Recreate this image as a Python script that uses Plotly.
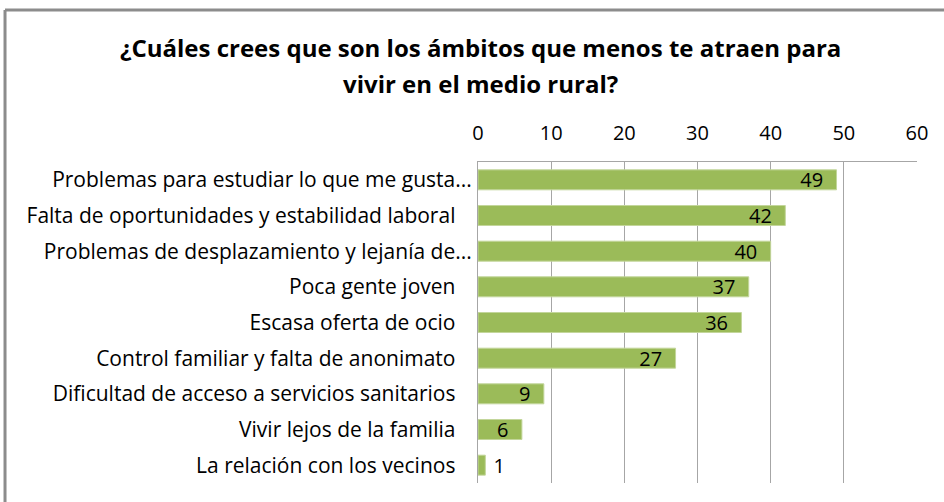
import plotly.graph_objects as go

# Categories (top to bottom) and counts
categorias = [
    "Problemas para estudiar lo que me gusta...",
    "Falta de oportunidades y estabilidad laboral",
    "Problemas de desplazamiento y lejanía de...",
    "Poca gente joven",
    "Escasa oferta de ocio",
    "Control familiar y falta de anonimato",
    "Dificultad de acceso a servicios sanitarios",
    "Vivir lejos de la familia",
    "La relación con los vecinos",
]
valores = [49, 42, 40, 37, 36, 27, 9, 6, 1]
ticks_x = [0, 10, 20, 30, 40, 50, 60]

titulo_1 = "¿Cuáles crees que son los ámbitos que menos te atraen para"
titulo_2 = "vivir en el medio rural?"

FONT = "Open Sans"
GRIS = "#A6A6A6"
VERDE = "#9BBB59"

# Excel pads the labels that are not cut with "..." a bit further from the axis
pad = "\u00a0" * 3
etiquetas = [c if c.endswith("...") else c + pad for c in categorias]

fig = go.Figure(go.Bar(
    x=valores,
    y=etiquetas,
    orientation="h",
    marker=dict(color=VERDE, line=dict(color="#C3D69B", width=1)),
    text=valores,
    texttemplate="\u00a0%{x}\u00a0\u00a0",
    textposition="auto",
    insidetextanchor="end",
    insidetextfont=dict(color="black", size=20, family=FONT),
    outsidetextfont=dict(color="black", size=20, family=FONT),
    constraintext="none",
    cliponaxis=False,
))

fig.update_layout(
    width=944, height=502,
    margin=dict(l=478, r=27, t=162, b=19),
    paper_bgcolor="white", plot_bgcolor="white",
    font=dict(family=FONT, size=18, color="black"),
    showlegend=False,
    bargap=0.44,
    xaxis=dict(
        side="top", range=[0, 60], tickvals=ticks_x,
        showgrid=True, gridcolor=GRIS, gridwidth=1,
        showline=True, linecolor=GRIS, linewidth=1, mirror=False,
        ticks="", ticklabelstandoff=13, zeroline=False,
        tickfont=dict(size=20),
    ),
    yaxis=dict(
        autorange="reversed",
        showline=True, linecolor=GRIS, linewidth=1,
        ticks="", ticklabelstandoff=1,
        tickfont=dict(size=21),
    ),
    annotations=[
        dict(text="<b>" + titulo_1 + "</b>", xref="paper", yref="paper",
             x=0.0046, y=1.358, xanchor="center", yanchor="middle",
             showarrow=False, font=dict(size=24)),
        dict(text="<b>" + titulo_2 + "</b>", xref="paper", yref="paper",
             x=0.0046, y=1.246, xanchor="center", yanchor="middle",
             showarrow=False, font=dict(size=24)),
    ],
    shapes=[
        dict(type="line", xref="paper", yref="paper",
             x0=-1.0774, x1=1.1, y0=1.4735, y1=1.4735,
             line=dict(color="#8C8C8C", width=3)),
        dict(type="line", xref="paper", yref="paper",
             x0=-1.0774, x1=-1.0774, y0=1.4735, y1=-0.2,
             line=dict(color="#8C8C8C", width=3)),
    ],
)

fig.write_html("out.html", config={"displayModeBar": False},
               post_script="document.body.style.margin='0';")
